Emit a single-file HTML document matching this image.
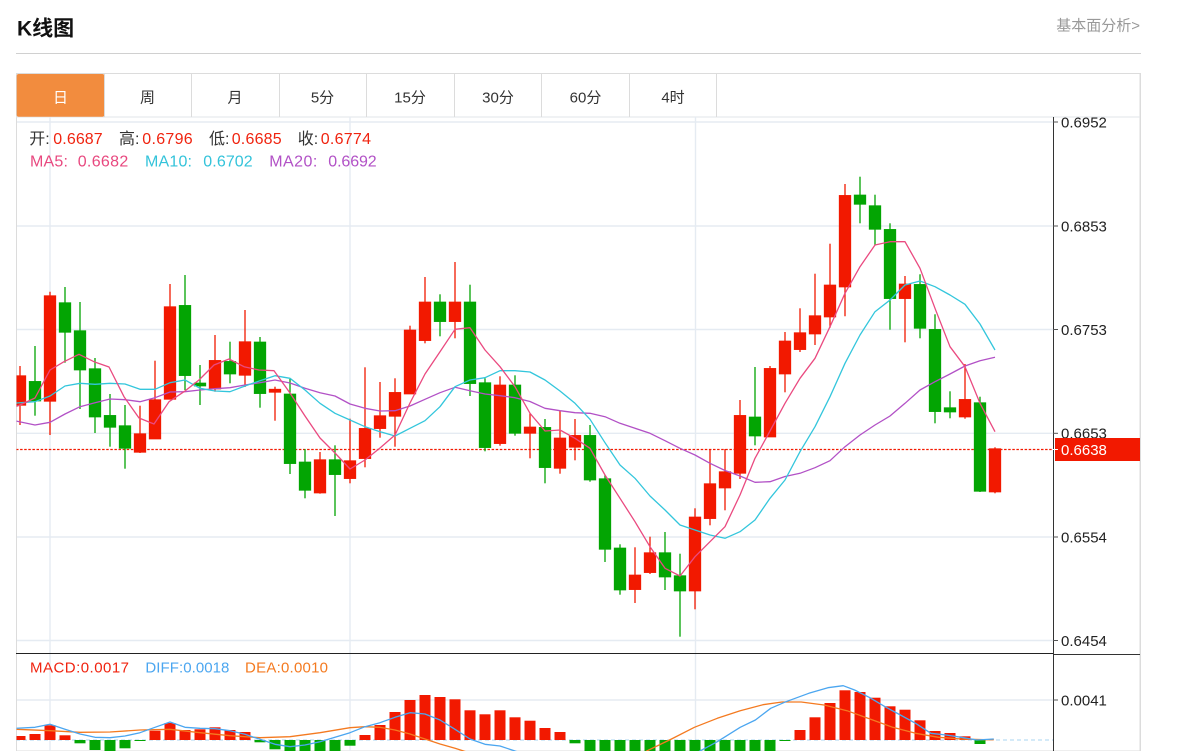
<!DOCTYPE html>
<html><head><meta charset="utf-8"><style>
html,body{margin:0;padding:0;background:#fff;}
svg{display:block;}
text{font-family:"Liberation Sans","Noto Sans CJK SC",sans-serif;}
</style></head><body>
<svg width="1178" height="751" viewBox="0 0 1178 751" xmlns="http://www.w3.org/2000/svg">
<defs>
<clipPath id="cm"><rect x="16.5" y="117" width="1036.5" height="536"/></clipPath>
<clipPath id="cd"><rect x="16.5" y="654" width="1036.5" height="97"/></clipPath>
</defs>
<rect width="1178" height="751" fill="#fff"/>
<!-- header -->
<text x="17" y="35.5" font-size="21" font-weight="bold" fill="#111">K线图</text>
<text x="1140" y="30.5" font-size="15" fill="#999" text-anchor="end">基本面分析&gt;</text>
<line x1="16" y1="53.5" x2="1141" y2="53.5" stroke="#d0d0d0" stroke-width="1"/>
<!-- tabs -->
<rect x="16.5" y="73.5" width="1123.5" height="677.5" fill="none" stroke="#dcdcdc" stroke-width="1"/>
<line x1="16" y1="117" x2="1140" y2="117" stroke="#e2e6ea" stroke-width="1"/>
<rect x="16.7" y="74" width="87.6" height="42.7" rx="2" fill="#f28c3e"/>
<g stroke="#dcdcdc" stroke-width="1">
<line x1="104.5" y1="73.5" x2="104.5" y2="117"/>
<line x1="191.5" y1="73.5" x2="191.5" y2="117"/>
<line x1="279.5" y1="73.5" x2="279.5" y2="117"/>
<line x1="366.5" y1="73.5" x2="366.5" y2="117"/>
<line x1="454.5" y1="73.5" x2="454.5" y2="117"/>
<line x1="541.5" y1="73.5" x2="541.5" y2="117"/>
<line x1="629.5" y1="73.5" x2="629.5" y2="117"/>
<line x1="716.5" y1="73.5" x2="716.5" y2="117"/>
</g>
<g font-size="15" fill="#333" text-anchor="middle">
<text x="60.5" y="102.5" fill="#fff">日</text>
<text x="147.5" y="102.5">周</text>
<text x="235" y="102.5">月</text>
<text x="322.5" y="102.5">5分</text>
<text x="410" y="102.5">15分</text>
<text x="498" y="102.5">30分</text>
<text x="585.5" y="102.5">60分</text>
<text x="673" y="102.5">4时</text>
</g>
<!-- grid -->
<g stroke="#e5ebf2" stroke-width="1.4">
<line x1="17" y1="122" x2="1053" y2="122"/>
<line x1="17" y1="226" x2="1053" y2="226"/>
<line x1="17" y1="329.5" x2="1053" y2="329.5"/>
<line x1="17" y1="433.3" x2="1053" y2="433.3"/>
<line x1="17" y1="537" x2="1053" y2="537"/>
<line x1="17" y1="640.5" x2="1053" y2="640.5"/>
<line x1="17" y1="700" x2="1053" y2="700"/>
<line x1="50" y1="117" x2="50" y2="751"/>
<line x1="350" y1="117" x2="350" y2="751"/>
<line x1="695.5" y1="117" x2="695.5" y2="751"/>
</g>
<!-- info -->
<g font-size="16">
<text x="29.3" y="144" fill="#333">开:</text><text x="53.3" y="144" fill="#f0230f" textLength="49.4">0.6687</text>
<text x="119" y="144" fill="#333">高:</text><text x="142.3" y="144" fill="#f0230f" textLength="50.4">0.6796</text>
<text x="209" y="144" fill="#333">低:</text><text x="231.7" y="144" fill="#f0230f" textLength="50">0.6685</text>
<text x="297.7" y="144" fill="#333">收:</text><text x="320.7" y="144" fill="#f0230f" textLength="50.3">0.6774</text>
<text x="30" y="166.5" fill="#e8487f" textLength="38">MA5:</text><text x="77.7" y="166.5" fill="#e8487f" textLength="50.6">0.6682</text>
<text x="145" y="166.5" fill="#33c3da" textLength="47">MA10:</text><text x="203.3" y="166.5" fill="#33c3da" textLength="49.4">0.6702</text>
<text x="269.3" y="166.5" fill="#b251c6" textLength="48">MA20:</text><text x="328.3" y="166.5" fill="#b251c6" textLength="48.4">0.6692</text>
</g>
<!-- candles -->
<g clip-path="url(#cm)">
<line x1="16" y1="449.5" x2="1053" y2="449.5" stroke="#f21900" stroke-width="1.3" stroke-dasharray="2.5,1.6"/>
<g stroke-width="1.3">
<g stroke="#f21900" fill="#f21900">
<line x1="20" y1="366" x2="20" y2="425"/><rect x="14.5" y="376" width="11" height="29"/>
<line x1="50" y1="291.7" x2="50" y2="435"/><rect x="44.5" y="296" width="11" height="105"/>
<line x1="140" y1="405.7" x2="140" y2="453"/><rect x="134.5" y="434" width="11" height="18"/>
<line x1="155" y1="360.7" x2="155" y2="438.7"/><rect x="149.5" y="400" width="11" height="38.7"/>
<line x1="170" y1="284" x2="170" y2="399"/><rect x="164.5" y="307" width="11" height="92"/>
<line x1="215" y1="335" x2="215" y2="391.7"/><rect x="209.5" y="360.7" width="11" height="28"/>
<line x1="245" y1="310" x2="245" y2="387"/><rect x="239.5" y="342" width="11" height="33"/>
<line x1="275" y1="386.7" x2="275" y2="420.7"/><rect x="269.5" y="389.5" width="11" height="2.5"/>
<line x1="320" y1="452" x2="320" y2="493.7"/><rect x="314.5" y="460" width="11" height="32.7"/>
<line x1="350" y1="418.7" x2="350" y2="483.3"/><rect x="344.5" y="461" width="11" height="17.3"/>
<line x1="365" y1="367.3" x2="365" y2="467.3"/><rect x="359.5" y="428.7" width="11" height="29.6"/>
<line x1="380" y1="382" x2="380" y2="437.7"/><rect x="374.5" y="416" width="11" height="12.3"/>
<line x1="395" y1="378.3" x2="395" y2="446.7"/><rect x="389.5" y="392.7" width="11" height="23.3"/>
<line x1="410" y1="325.7" x2="410" y2="393.7"/><rect x="404.5" y="330.3" width="11" height="63.4"/>
<line x1="425" y1="277" x2="425" y2="343.3"/><rect x="419.5" y="302.3" width="11" height="38"/>
<line x1="455" y1="262" x2="455" y2="338.3"/><rect x="449.5" y="302.3" width="11" height="19"/>
<line x1="500" y1="376.3" x2="500" y2="445.7"/><rect x="494.5" y="385.3" width="11" height="58"/>
<line x1="530" y1="413.3" x2="530" y2="458.3"/><rect x="524.5" y="427.3" width="11" height="5.7"/>
<line x1="560" y1="410.7" x2="560" y2="473.7"/><rect x="554.5" y="438.3" width="11" height="29.7"/>
<line x1="575" y1="419" x2="575" y2="460.3"/><rect x="569.5" y="435.7" width="11" height="11.3"/>
<line x1="635" y1="547.3" x2="635" y2="603"/><rect x="629.5" y="575.3" width="11" height="14"/>
<line x1="650" y1="536.7" x2="650" y2="574"/><rect x="644.5" y="553" width="11" height="19.3"/>
<line x1="695" y1="508.3" x2="695" y2="609.3"/><rect x="689.5" y="517.3" width="11" height="73.4"/>
<line x1="710" y1="449" x2="710" y2="525.3"/><rect x="704.5" y="484" width="11" height="34.3"/>
<line x1="725" y1="449" x2="725" y2="510.3"/><rect x="719.5" y="472" width="11" height="15.7"/>
<line x1="740" y1="400" x2="740" y2="479"/><rect x="734.5" y="415.7" width="11" height="57.3"/>
<line x1="770" y1="366" x2="770" y2="436.7"/><rect x="764.5" y="368.7" width="11" height="68"/>
<line x1="785" y1="332" x2="785" y2="392.3"/><rect x="779.5" y="341.3" width="11" height="32.4"/>
<line x1="800" y1="308.3" x2="800" y2="352"/><rect x="794.5" y="333" width="11" height="16.3"/>
<line x1="815" y1="273.7" x2="815" y2="345"/><rect x="809.5" y="316" width="11" height="17.7"/>
<line x1="830" y1="243.7" x2="830" y2="327.7"/><rect x="824.5" y="285.3" width="11" height="31.4"/>
<line x1="845" y1="184" x2="845" y2="316.3"/><rect x="839.5" y="195.7" width="11" height="91"/>
<line x1="905" y1="276" x2="905" y2="342.3"/><rect x="899.5" y="284.3" width="11" height="14"/>
<line x1="965" y1="364" x2="965" y2="418.7"/><rect x="959.5" y="399.7" width="11" height="17"/>
<line x1="995" y1="447.3" x2="995" y2="493.3"/><rect x="989.5" y="449" width="11" height="42.7"/>
</g>
<g stroke="#03a503" fill="#03a503">
<line x1="35" y1="346" x2="35" y2="415.7"/><rect x="29.5" y="381.7" width="11" height="19"/>
<line x1="65" y1="287" x2="65" y2="362.7"/><rect x="59.5" y="303" width="11" height="29"/>
<line x1="80" y1="302" x2="80" y2="409"/><rect x="74.5" y="331" width="11" height="38.7"/>
<line x1="95" y1="358" x2="95" y2="433"/><rect x="89.5" y="369" width="11" height="47.7"/>
<line x1="110" y1="394" x2="110" y2="446.7"/><rect x="104.5" y="415.7" width="11" height="11.3"/>
<line x1="125" y1="405" x2="125" y2="468.7"/><rect x="119.5" y="426" width="11" height="22"/>
<line x1="185" y1="275" x2="185" y2="390"/><rect x="179.5" y="305.7" width="11" height="69.6"/>
<line x1="200" y1="365" x2="200" y2="405"/><rect x="194.5" y="383.3" width="11" height="2.4"/>
<line x1="230" y1="341.7" x2="230" y2="383.3"/><rect x="224.5" y="361.7" width="11" height="12"/>
<line x1="260" y1="337" x2="260" y2="407.7"/><rect x="254.5" y="342.3" width="11" height="51"/>
<line x1="290" y1="379" x2="290" y2="474"/><rect x="284.5" y="394.3" width="11" height="69"/>
<line x1="305" y1="449" x2="305" y2="498.3"/><rect x="299.5" y="462.3" width="11" height="27.7"/>
<line x1="335" y1="445.3" x2="335" y2="516"/><rect x="329.5" y="460" width="11" height="14.3"/>
<line x1="440" y1="294.3" x2="440" y2="336.3"/><rect x="434.5" y="302.3" width="11" height="19"/>
<line x1="470" y1="284.7" x2="470" y2="396"/><rect x="464.5" y="302.3" width="11" height="81"/>
<line x1="485" y1="378.3" x2="485" y2="451.3"/><rect x="479.5" y="383" width="11" height="64.3"/>
<line x1="515" y1="375.3" x2="515" y2="435.7"/><rect x="509.5" y="385.3" width="11" height="47.7"/>
<line x1="545" y1="419" x2="545" y2="483.3"/><rect x="539.5" y="427.7" width="11" height="39.6"/>
<line x1="590" y1="425" x2="590" y2="481.7"/><rect x="584.5" y="435.7" width="11" height="44"/>
<line x1="605" y1="475" x2="605" y2="562"/><rect x="599.5" y="479" width="11" height="70"/>
<line x1="620" y1="544.3" x2="620" y2="594.7"/><rect x="614.5" y="548.3" width="11" height="41.4"/>
<line x1="665" y1="532" x2="665" y2="590"/><rect x="659.5" y="553" width="11" height="23.7"/>
<line x1="680" y1="553.7" x2="680" y2="636.7"/><rect x="674.5" y="576" width="11" height="14.7"/>
<line x1="755" y1="367" x2="755" y2="445.3"/><rect x="749.5" y="417.3" width="11" height="18.4"/>
<line x1="860" y1="176.7" x2="860" y2="223.3"/><rect x="854.5" y="195.3" width="11" height="8.7"/>
<line x1="875" y1="194.7" x2="875" y2="245"/><rect x="869.5" y="206" width="11" height="23"/>
<line x1="890" y1="223.3" x2="890" y2="329.7"/><rect x="884.5" y="229.7" width="11" height="68.6"/>
<line x1="920" y1="274.3" x2="920" y2="338.3"/><rect x="914.5" y="284.7" width="11" height="43.3"/>
<line x1="935" y1="314.3" x2="935" y2="423.3"/><rect x="929.5" y="329.7" width="11" height="81.6"/>
<line x1="950" y1="391.3" x2="950" y2="418.3"/><rect x="944.5" y="408" width="11" height="3.7"/>
<line x1="980" y1="396.7" x2="980" y2="492"/><rect x="974.5" y="403" width="11" height="88"/>
</g>
</g>
<!-- MA lines -->
<g fill="none" stroke-width="1.3" stroke-linejoin="round">
<polyline stroke="#b251c6" points="16,421 35,425 50,422.3 65,414 80,406.7 95,402.7 110,399 125,399.7 140,401.7 155,397.7 170,392 185,391.7 200,390 215,388.7 230,387.7 245,385 260,382.7 275,380 290,383 305,388.3 320,392.7 335,396 350,404 365,408.3 380,411 395,410.7 410,406 425,399.3 440,392.7 455,387.3 470,390.7 485,394 500,395.7 515,397.7 530,401.5 545,408.3 560,410.7 575,412.7 590,413.3 605,416.7 620,423.3 635,428.3 650,433.3 665,440.7 680,448.3 695,455 710,463.3 725,470.5 740,476 755,482.3 770,481.7 785,476.5 800,473.3 815,467.7 830,460.7 845,446.7 860,435 875,425 890,416 905,403.3 920,390 935,381.7 950,374 965,366 980,360.7 995,357.3"/>
<polyline stroke="#33c6dc" points="16,403 35,401.7 50,396 65,386 80,383.3 95,384.3 110,383.3 125,384 140,389.3 155,389.3 170,382.7 185,380 200,388.3 215,391 230,391.7 245,386 260,380.7 275,375.7 290,378.3 305,390 320,403.3 335,413.3 350,420 365,426.7 380,431.7 395,436 410,428.3 425,420.7 440,406.7 455,386.7 470,380 485,377.7 500,370.7 515,370.7 530,372 545,380 560,391 575,403.3 590,419.3 605,442.7 620,465 635,478.3 650,496 665,510 680,525 695,530 710,535 725,538.3 740,531.7 755,520 770,498.3 785,480 800,451.7 815,426.7 830,396.7 845,363.3 860,335 875,311.7 890,300 905,285 920,281 935,286.7 950,295 965,304.3 980,324 995,350"/>
<polyline stroke="#ea4a80" points="16,406.5 20,405 35,398 50,370 64,361.7 79,354.3 94,361.7 109,367 124,396.7 139,418 154,424 169,401.7 184,391.7 199,380 214,365 229,359 244,366.7 259,370 274,370.7 290,393 305,416 320,438 335,453 350,469 365,460 380,448 395,435 410,403 425,374 440,351.7 455,329.3 470,327.7 485,350 500,366.7 515,386.7 530,413.3 545,431 560,430 575,438.3 590,448.3 605,475 620,498.3 635,521.7 650,546.7 665,568.3 680,576 695,556.7 710,541.7 725,526.7 740,495 755,458.3 770,431 785,403.3 800,378.3 815,358.3 830,326.7 845,293.3 860,266.7 875,245 890,241.7 905,241.7 920,268.3 935,308.3 950,346.7 965,366.7 980,403.3 995,431.7"/>
</g>
</g>
<!-- MACD -->
<g clip-path="url(#cd)">
<line x1="16" y1="740" x2="1053" y2="740" stroke="#a8d4f0" stroke-width="1" stroke-dasharray="4,3"/>
<g fill="#f21900">
<rect x="14.5" y="736" width="11" height="4"/>
<rect x="29.5" y="734" width="11" height="6"/>
<rect x="44.5" y="725.3" width="11" height="14.7"/>
<rect x="59.5" y="735.3" width="11" height="4.7"/>
<rect x="149.5" y="730.7" width="11" height="9.3"/>
<rect x="164.5" y="723" width="11" height="17"/>
<rect x="179.5" y="730" width="11" height="10"/>
<rect x="194.5" y="729.3" width="11" height="10.7"/>
<rect x="209.5" y="727.3" width="11" height="12.7"/>
<rect x="224.5" y="730" width="11" height="10"/>
<rect x="239.5" y="732" width="11" height="8"/>
<rect x="359.5" y="735" width="11" height="5"/>
<rect x="374.5" y="725" width="11" height="15"/>
<rect x="389.5" y="712" width="11" height="28"/>
<rect x="404.5" y="700" width="11" height="40"/>
<rect x="419.5" y="695" width="11" height="45"/>
<rect x="434.5" y="697" width="11" height="43"/>
<rect x="449.5" y="699.3" width="11" height="40.7"/>
<rect x="464.5" y="710.3" width="11" height="29.7"/>
<rect x="479.5" y="714.3" width="11" height="25.7"/>
<rect x="494.5" y="710.3" width="11" height="29.7"/>
<rect x="509.5" y="717.3" width="11" height="22.7"/>
<rect x="524.5" y="720.7" width="11" height="19.3"/>
<rect x="539.5" y="728" width="11" height="12"/>
<rect x="554.5" y="732" width="11" height="8"/>
<rect x="794.5" y="730" width="11" height="10"/>
<rect x="809.5" y="717.3" width="11" height="22.7"/>
<rect x="824.5" y="703" width="11" height="37"/>
<rect x="839.5" y="690.3" width="11" height="49.7"/>
<rect x="854.5" y="692" width="11" height="48"/>
<rect x="869.5" y="697.7" width="11" height="42.3"/>
<rect x="884.5" y="706.3" width="11" height="33.7"/>
<rect x="899.5" y="709.7" width="11" height="30.3"/>
<rect x="914.5" y="720.3" width="11" height="19.7"/>
<rect x="929.5" y="731" width="11" height="9"/>
<rect x="944.5" y="733" width="11" height="7"/>
<rect x="959.5" y="736.3" width="11" height="3.7"/>
</g>
<g fill="#03a503">
<rect x="74.5" y="740" width="11" height="3.3"/>
<rect x="89.5" y="740" width="11" height="10"/>
<rect x="104.5" y="740" width="11" height="12"/>
<rect x="119.5" y="740" width="11" height="8.3"/>
<rect x="134.5" y="740" width="11" height="1"/>
<rect x="254.5" y="740" width="11" height="2.3"/>
<rect x="269.5" y="740" width="11" height="9.3"/>
<rect x="284.5" y="740" width="11" height="12"/>
<rect x="299.5" y="740" width="11" height="12"/>
<rect x="314.5" y="740" width="11" height="12"/>
<rect x="329.5" y="740" width="11" height="12"/>
<rect x="344.5" y="740" width="11" height="5.7"/>
<rect x="569.5" y="740" width="11" height="3.3"/>
<rect x="584.5" y="740" width="11" height="12"/>
<rect x="599.5" y="740" width="11" height="12"/>
<rect x="614.5" y="740" width="11" height="12"/>
<rect x="629.5" y="740" width="11" height="12"/>
<rect x="644.5" y="740" width="11" height="12"/>
<rect x="659.5" y="740" width="11" height="12"/>
<rect x="674.5" y="740" width="11" height="12"/>
<rect x="689.5" y="740" width="11" height="12"/>
<rect x="704.5" y="740" width="11" height="12"/>
<rect x="719.5" y="740" width="11" height="12"/>
<rect x="734.5" y="740" width="11" height="12"/>
<rect x="749.5" y="740" width="11" height="12"/>
<rect x="764.5" y="740" width="11" height="12"/>
<rect x="779.5" y="740" width="11" height="1"/>
<rect x="974.5" y="740" width="11" height="4"/>
</g>
<g fill="none" stroke-width="1.3" stroke-linejoin="round">
<polyline stroke="#f47a20" points="16,729.3 50,730.7 80,732.3 110,732 140,730 170,729.3 200,732.7 230,735.7 260,737.7 290,736.7 320,732.7 350,727.7 365,726.7 380,727.3 395,730 410,734 425,739 440,744 455,748.3 470,753 640,755 646.7,751 671.5,739 694.4,727.3 717.3,718.3 740.2,710.7 763,704.7 782,702 801.2,702 824,705 847,710.7 870,719 892.7,727.3 915.6,733.3 938.5,737.3 961.4,739 984.3,739.7 993.8,739.7"/>
<polyline stroke="#4ba6f0" points="16,728.3 35,727.3 50,724.3 65,729.3 80,734 95,737.3 110,737.7 125,736 140,732.7 155,727.3 170,722 185,727.3 200,728.3 215,728.7 230,730.7 245,734.3 260,739.3 275,744.3 290,746.7 305,745 320,741.7 335,737.3 350,732.7 365,726.7 380,722.7 395,717.3 410,712.7 425,714 440,720 455,729.3 470,739 485,744.3 500,746 515,751 530,756 690,756 700,751 717.3,741.7 740.2,727.3 755.4,720 770.7,708.3 786,701.7 808.8,693.3 827.9,687.7 843.2,685.7 854.6,690 869.9,697.7 885,706.7 900.4,715 915.6,723.3 930.9,733.3 946,735 961.4,737.3 976.6,740 993.8,739"/>
</g>
</g>
<g font-size="15">
<text x="30" y="672.5" fill="#f0230f" textLength="99">MACD:0.0017</text>
<text x="145.4" y="672.5" fill="#4ba6f0" textLength="84">DIFF:0.0018</text>
<text x="245" y="672.5" fill="#f47a20" textLength="83">DEA:0.0010</text>
</g>
<!-- axis -->
<line x1="16" y1="653.5" x2="1053" y2="653.5" stroke="#222" stroke-width="1"/>
<line x1="1053" y1="654.5" x2="1140" y2="654.5" stroke="#333" stroke-width="1"/>
<line x1="1053.5" y1="117" x2="1053.5" y2="751" stroke="#333" stroke-width="1"/>
<g stroke="#555" stroke-width="1">
<line x1="1053" y1="122" x2="1058" y2="122"/>
<line x1="1053" y1="226" x2="1058" y2="226"/>
<line x1="1053" y1="329.5" x2="1058" y2="329.5"/>
<line x1="1053" y1="433.3" x2="1058" y2="433.3"/>
<line x1="1053" y1="537" x2="1058" y2="537"/>
<line x1="1053" y1="640.5" x2="1058" y2="640.5"/>
<line x1="1053" y1="700" x2="1058" y2="700"/>
</g>
<g font-size="15" fill="#222">
<text x="1061" y="127.5">0.6952</text>
<text x="1061" y="231.4">0.6853</text>
<text x="1061" y="334.9">0.6753</text>
<text x="1061" y="438.5">0.6653</text>
<text x="1061" y="542.4">0.6554</text>
<text x="1061" y="645.9">0.6454</text>
<text x="1061" y="705.4">0.0041</text>
</g>
<rect x="1055" y="438" width="85" height="23" fill="#f21900"/>
<line x1="1053" y1="449.5" x2="1058" y2="449.5" stroke="#fff" stroke-width="1"/>
<text x="1061" y="455" font-size="15" fill="#fff">0.6638</text>
<line x1="1140.5" y1="73" x2="1140.5" y2="751" stroke="#dcdcdc" stroke-width="1"/>
</svg>
</body></html>
